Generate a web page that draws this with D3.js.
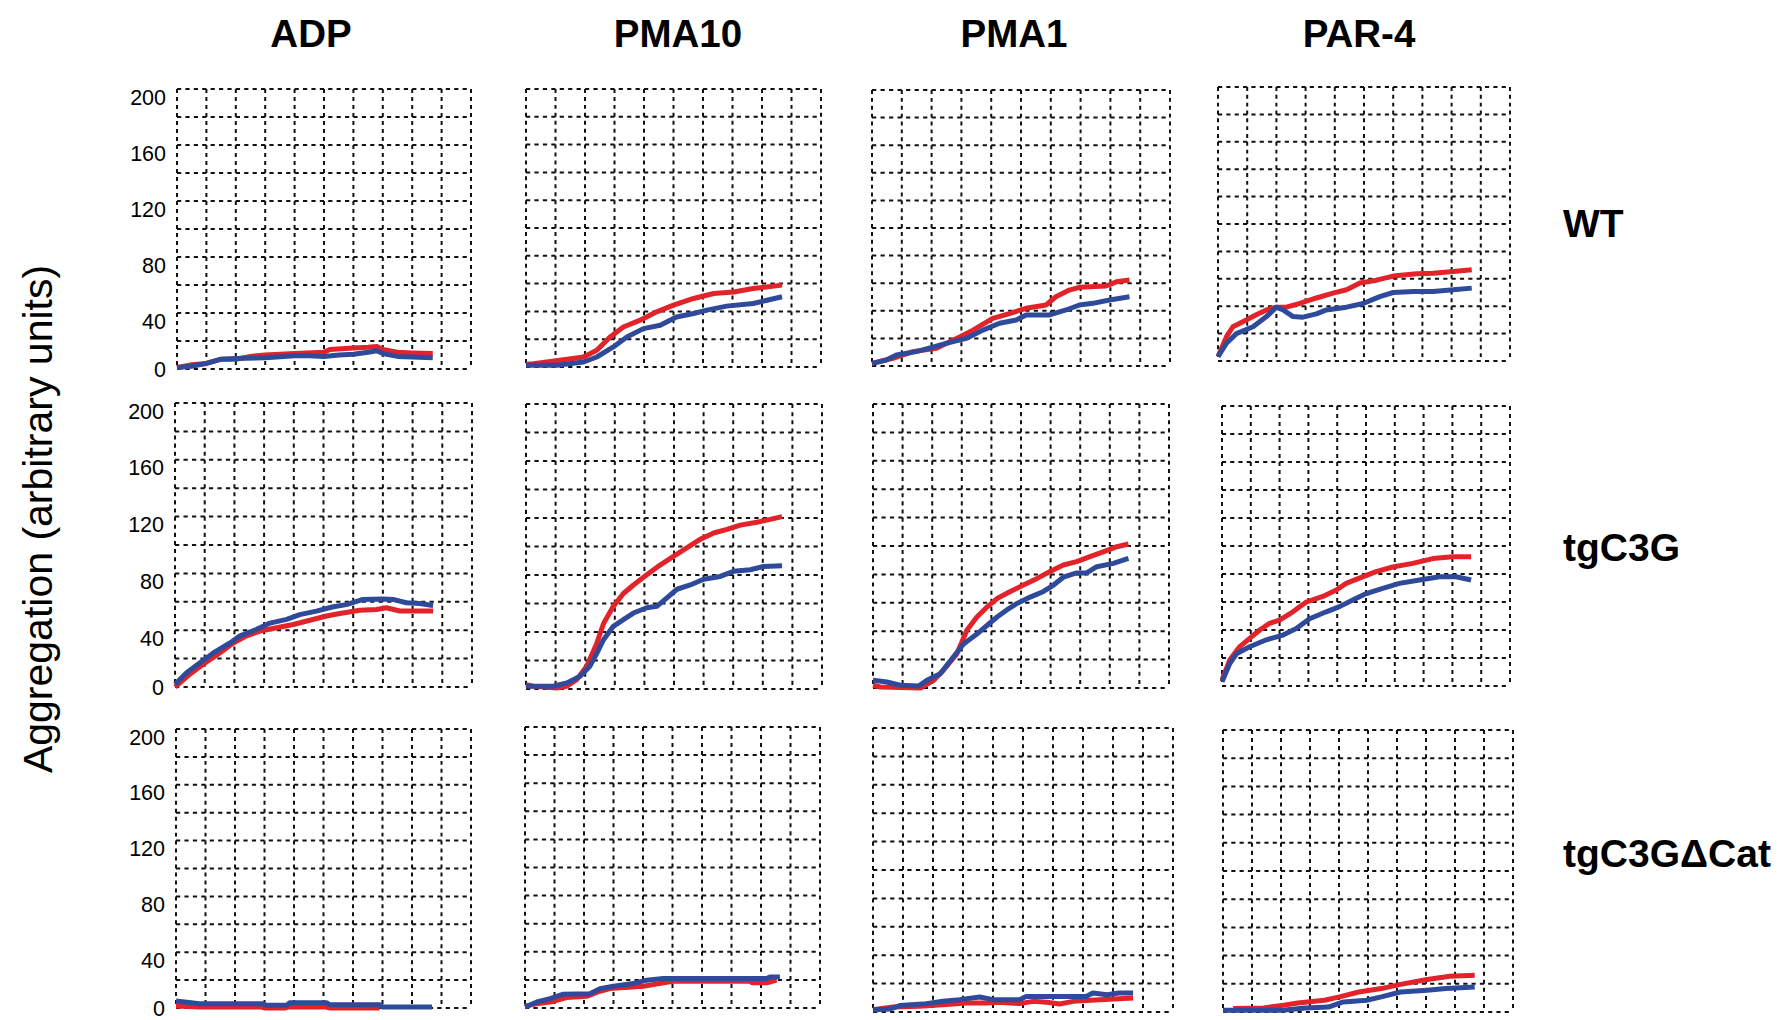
<!DOCTYPE html>
<html>
<head>
<meta charset="utf-8">
<script src="https://cdn.jsdelivr.net/npm/d3@7"></script>
<style>
  html, body { margin: 0; padding: 0; background: #fff; }
  svg { display: block; }
  text { font-family: "Liberation Sans", Arial, Helvetica, sans-serif; fill: #000; }
</style>
</head>
<body>
<svg id="chart" width="1791" height="1020"></svg>
<script>
// Column (agonist) and row (genotype) headings
const agonists = ["ADP", "PMA10", "PMA1", "PAR-4"];
const genotypes = ["WT", "tgC3G", "tgC3GΔCat"];
const yTicks = [0, 40, 80, 120, 160, 200];

// Aggregation traces: [time in grid divisions, aggregation]
// WT
const wtADP_red = [[0,1],[0.5,3],[1,4],[1.5,7],[2,7],[2.5,9],[3,10],[4,11],[5,12],[5.2,14],[6,15],[6.5,15.5],[6.8,16],[7,14],[7.5,12],[8,11.5],[8.7,11]];
const wtADP_blue = [[0,1],[0.5,2],[1,4],[1.5,7],[2,7.5],[3,8],[4,9.5],[4.5,9.5],[5,9],[5.5,10],[6,10.5],[6.5,12],[6.8,13],[7,11],[7.5,9],[8,8.5],[8.7,8]];
const wtPMA10_red = [[0,2],[0.25,2.4],[1.15,4.8],[1.95,7.2],[2.4,12],[2.85,21.6],[3.3,28.8],[3.87,33.7],[4.43,39.7],[5,44.5],[5.68,49.3],[6.36,52.9],[7.04,54],[7.7,56.5],[8.68,58.9]];
const wtPMA10_blue = [[0,1.2],[1.04,1.2],[1.95,3.6],[2.4,7.2],[2.96,14.4],[3.42,21.6],[3.98,27.6],[4.55,30],[5.1,36],[5.68,38.5],[6.13,40.9],[6.8,43.8],[7.7,45.7],[8.17,48],[8.68,50.5]];
const wtPMA1_red = [[0,1.9],[0.7,5.6],[1.37,10.4],[2.16,12.8],[2.94,21],[3.39,26],[4.05,34.5],[4.61,38],[5.17,41.8],[5.84,44.2],[6.17,50.2],[6.62,55],[6.96,57],[7.85,58],[8.2,61],[8.64,62.3]];
const wtPMA1_blue = [[0,1.9],[0.48,4.3],[0.82,8],[1.49,10.4],[2.49,16.4],[3.16,20],[3.72,26],[4.28,31],[4.84,33.3],[5.17,37],[5.96,37],[6.51,40.6],[6.96,44.2],[7.41,45.4],[7.97,47.8],[8.64,50.2]];
const wtPAR4_red = [[0,3.2],[0.29,17.8],[0.51,25],[0.97,30],[1.31,33.7],[1.66,37.3],[2,39.3],[2.34,39.3],[2.8,42],[3.37,46],[3.94,49.5],[4.4,52],[4.86,57],[5.43,59],[6,62],[6.8,63.7],[7.37,64],[8.06,65.4],[8.69,66.6]];
const wtPAR4_blue = [[0,3.2],[0.29,13],[0.63,20],[1.2,25],[1.66,32.4],[2,39.3],[2.23,37.3],[2.57,32.4],[2.91,32],[3.37,34.4],[3.71,37.3],[4.4,39.3],[4.97,42],[5.54,47],[6,50],[6.69,50.7],[7.37,50.7],[8.06,52],[8.69,53.2]];
// tgC3G
const tgADP_red = [[0,0],[0.5,9],[0.95,16],[1.51,24],[1.96,31],[2.41,36],[2.86,39.4],[3.42,41.7],[3.98,44],[4.54,47],[5.1,50],[5.55,51.8],[6.22,54],[6.78,54.6],[7.12,55.8],[7.57,53.5],[8.69,53.5]];
const tgADP_blue = [[0,1.9],[0.39,10],[0.84,17],[1.29,24],[1.85,31],[2.19,36],[2.75,40.6],[3.2,45],[3.76,47.6],[4.2,51],[4.76,53.4],[5.33,56.5],[5.77,58],[6.33,61.7],[7,62],[7.34,61.7],[7.79,59.3],[8.24,58.8],[8.69,57.4]];
const tgPMA10_red = [[0,3],[0.25,1.9],[1.04,0.7],[1.38,1.9],[1.71,6.5],[2.05,16],[2.39,32],[2.62,46],[2.95,58],[3.29,67],[3.63,73],[4.07,80],[4.53,87],[4.98,93],[5.43,99],[5.88,105],[6.34,109.5],[6.79,112],[7.24,115],[7.8,117],[8.25,119],[8.65,121]];
const tgPMA10_blue = [[0,1.9],[0.92,1.9],[1.38,4.2],[1.83,9],[2.16,16],[2.39,25],[2.62,34.6],[2.95,44],[3.29,48.7],[3.63,53.3],[4.08,57],[4.42,58],[4.76,64],[5.1,70],[5.55,73],[6,77],[6.56,79],[7.01,82.6],[7.58,83.7],[8.03,86],[8.65,86.5]];
const tgPMA1_red = [[0,1.9],[0.25,0.7],[1.6,0],[2.05,5.4],[2.38,12.5],[2.83,24],[3.17,40.7],[3.51,50],[3.85,57],[4.19,63],[4.64,68],[5.08,72.5],[5.53,77],[5.98,82],[6.43,86.6],[6.88,89],[7.33,92.5],[7.8,96],[8.24,99.5],[8.63,101.4]];
const tgPMA1_blue = [[0,5.4],[0.47,4.2],[0.92,1.9],[1.54,1.4],[1.82,5.4],[2.27,10],[2.72,22],[3.06,31],[3.51,38],[3.85,44],[4.19,50],[4.52,55],[4.86,59.5],[5.31,64],[5.76,68],[6.1,72.5],[6.43,78],[6.88,81],[7.22,81],[7.56,85.4],[8.12,87.8],[8.63,91.3]];
const tgPAR4_red = [[0,4.3],[0.27,18.6],[0.61,28],[0.96,34],[1.31,40],[1.65,44.8],[2,47],[2.46,53],[2.93,60],[3.5,64],[3.97,68.6],[4.31,73.3],[4.77,77],[5.35,81.7],[5.93,85],[6.62,87.6],[7.32,91],[8.01,92.4],[8.65,92.4]];
const tgPAR4_blue = [[0,3],[0.27,16],[0.5,23],[0.96,28],[1.54,33],[2.12,36.4],[2.58,41],[3.04,48],[3.62,53],[4.08,56.7],[4.54,61.4],[5.01,66],[5.58,69.8],[6.16,73.3],[6.86,75.7],[7.55,78],[8.13,78],[8.65,75.7]];
// tgC3GΔCat
const catADP_red = [[0,1.5],[0.8,0.7],[2.9,0.7],[3,0],[3.7,0],[3.8,0.7],[5.1,0.7],[5.2,0],[6.9,0]];
const catADP_blue = [[0,5],[0.8,3.1],[2.96,3.1],[3.05,1.9],[3.76,1.9],[3.85,3.8],[5.11,3.8],[5.2,2.4],[6.92,2.4],[7.0,0.7],[8.68,0.7]];
const catPMA10_red = [[0,1.2],[0.4,3.1],[0.85,4.3],[1.41,7.4],[2.09,8.3],[2.54,11.9],[2.88,13.8],[4.01,15.5],[4.69,17.9],[5.03,19],[7.63,19],[7.7,17.9],[8.2,17.9],[8.53,19.8]];
const catPMA10_blue = [[0,0.7],[0.4,4.3],[0.85,6.7],[1.3,9.8],[2.2,10.2],[2.54,13.8],[3,15.5],[3.67,17.4],[4.12,19.8],[4.69,21],[8.19,21],[8.3,22],[8.64,22]];
const catPMA1_red = [[0,1.6],[0.67,3.5],[1.56,4],[2.44,5.2],[3.11,6.3],[3.78,6.3],[4.2,6.8],[4.89,5.9],[5.33,7.5],[5.8,6.8],[6.22,5.6],[6.67,7.5],[7.56,8.7],[8.67,9.9]];
const catPMA1_blue = [[0,1.6],[0.56,2.1],[0.89,4.5],[1.78,5.9],[2.33,7.5],[2.89,8.7],[3.56,10.6],[4,8.7],[4.89,8.7],[5.11,11],[7.11,11],[7.33,13.4],[7.8,12.2],[8.2,13.4],[8.67,13.4]];
const catPAR4_red = [[0.35,2.4],[1.4,2.8],[2.05,4.7],[2.58,6.4],[3.5,8.3],[4.02,10.7],[4.68,14.2],[5.46,16.6],[6.12,19.6],[7.04,23],[7.82,25.3],[8.68,26]];
const catPAR4_blue = [[0,1.2],[2.05,1.2],[2.84,2.8],[3.63,3.5],[4.15,7.1],[4.95,8.3],[5.46,10.7],[6.12,14.2],[7.04,15.4],[7.69,16.6],[8.68,17.8]];

// Series grid: rows follow genotypes, columns follow agonists
const redSeries = [
  [wtADP_red, wtPMA10_red, wtPMA1_red, wtPAR4_red],
  [tgADP_red, tgPMA10_red, tgPMA1_red, tgPAR4_red],
  [catADP_red, catPMA10_red, catPMA1_red, catPAR4_red]
];
const blueSeries = [
  [wtADP_blue, wtPMA10_blue, wtPMA1_blue, wtPAR4_blue],
  [tgADP_blue, tgPMA10_blue, tgPMA1_blue, tgPAR4_blue],
  [catADP_blue, catPMA10_blue, catPMA1_blue, catPAR4_blue]
];

// ---- layout ----
const panelBoxes = [
  [{x:177,y:89,w:294,h:280},{x:526,y:89,w:295,h:278},{x:872,y:90,w:298,h:276},{x:1218,y:87,w:292,h:274}],
  [{x:175,y:403,w:297,h:284},{x:526,y:404,w:296,h:285},{x:873,y:404,w:296,h:284},{x:1222,y:406,w:288,h:280}],
  [{x:176,y:729,w:295,h:279},{x:525,y:727,w:295,h:281},{x:873,y:728,w:300,h:284},{x:1223,y:730,w:290,h:282}]
];
const titleX = [311, 678, 1014, 1359];
const rowLabelY = [237, 561, 867];
const RED = "#e3232a";
const BLUE = "#2f4a9b";
const X_DIVS = 10;
const Y_STEP = 20;

const svg = d3.select("#chart");

// Column headings
svg.selectAll("text.title")
  .data(agonists)
  .join("text")
  .attr("class", "title")
  .attr("x", (d, i) => titleX[i])
  .attr("y", 47)
  .attr("text-anchor", "middle")
  .style("font-size", "38.5px")
  .style("font-weight", "bold")
  .text(d => d);

// Row headings
svg.selectAll("text.rowlab")
  .data(genotypes)
  .join("text")
  .attr("class", "rowlab")
  .attr("x", 1563)
  .attr("y", (d, i) => rowLabelY[i])
  .style("font-size", "39px")
  .style("font-weight", "bold")
  .text(d => d);

// Shared y-axis title
svg.append("text")
  .attr("transform", "translate(52,519) rotate(-90)")
  .attr("text-anchor", "middle")
  .style("font-size", "41px")
  .text("Aggregation (arbitrary units)");

genotypes.forEach((g, r) => {
  agonists.forEach((a, c) => {
    const b = panelBoxes[r][c];
    const x = d3.scaleLinear().domain([0, X_DIVS]).range([b.x, b.x + b.w]);
    const y = d3.scaleLinear().domain([0, 200]).range([b.y + b.h, b.y]);
    const panel = svg.append("g").attr("class", "panel");

    const colW = b.w / X_DIVS;
    const rowH = b.h / (200 / Y_STEP);

    // dashed grid
    const grid = panel.append("g")
      .attr("fill", "none")
      .attr("stroke", "#111")
      .attr("stroke-width", 2);
    grid.selectAll("path.h")
      .data(d3.range(0, 200 + Y_STEP, Y_STEP))
      .join("path")
      .attr("class", "h")
      .attr("stroke-dasharray", `${colW / 7} ${colW / 7}`)
      .attr("d", v => `M${b.x},${y(v)}H${b.x + b.w}`);
    grid.selectAll("path.v")
      .data(d3.range(0, X_DIVS + 1))
      .join("path")
      .attr("class", "v")
      .attr("stroke-dasharray", `${rowH / 7} ${rowH / 7}`)
      .attr("d", v => `M${x(v)},${b.y}V${b.y + b.h}`);

    // tick labels on the first column only
    if (c === 0) {
      panel.selectAll("text.tick")
        .data(yTicks)
        .join("text")
        .attr("class", "tick")
        .attr("x", b.x - 11)
        .attr("y", v => y(v) + (v === 0 ? 8 : 15.5))
        .attr("text-anchor", "end")
        .style("font-size", "21.5px")
        .text(v => v);
    }

    const line = d3.line().x(d => x(d[0])).y(d => y(d[1]));
    panel.append("path")
      .datum(redSeries[r][c])
      .attr("fill", "none")
      .attr("stroke", RED)
      .attr("stroke-width", 5)
      .attr("stroke-linejoin", "round")
      .attr("d", line);
    panel.append("path")
      .datum(blueSeries[r][c])
      .attr("fill", "none")
      .attr("stroke", BLUE)
      .attr("stroke-width", 5)
      .attr("stroke-linejoin", "round")
      .attr("d", line);
  });
});
</script>
</body>
</html>
